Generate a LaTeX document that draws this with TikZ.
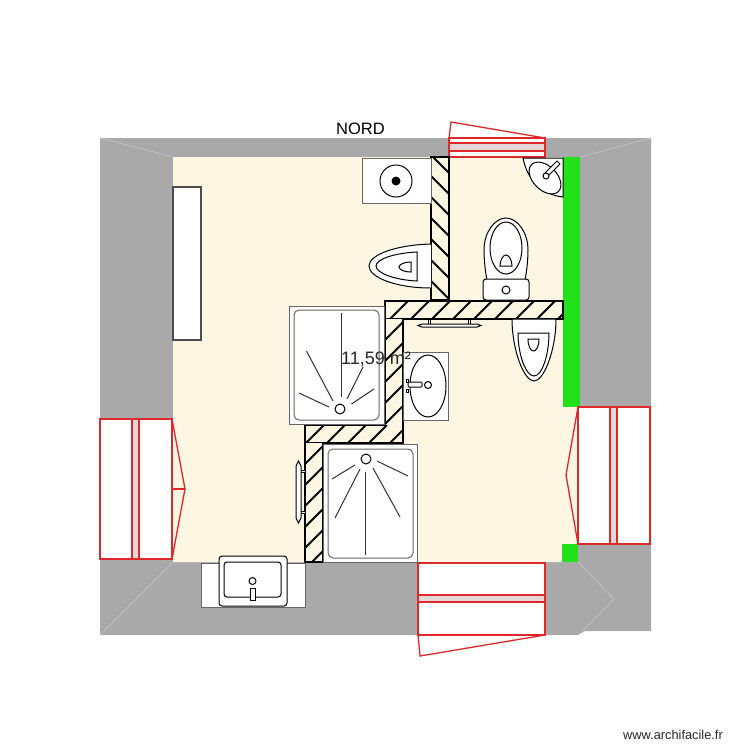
\documentclass[tikz,border=0pt]{standalone}
\usepackage{fontspec}
\setmainfont{Liberation Sans}
\definecolor{mur}{HTML}{A9A9A9}
\definecolor{sol}{HTML}{FDF6E3}
\definecolor{vert}{HTML}{22E01A}
\definecolor{rouge}{HTML}{E0282C}
\definecolor{barre}{HTML}{E2D8D8}
\tikzset{
  fixture/.style={draw=black, fill=white, line width=1pt},
  thinfix/.style={draw=black!60, fill=white, line width=1pt},
  ray/.style={draw=black!80, line width=1pt},
  window/.style={draw=rouge, fill=white, line width=1.3pt},
  bar/.style={draw=rouge, fill=barre, line width=1.3pt},
  leaf/.style={draw=rouge, line width=1.3pt},
  seam/.style={draw=white!35!mur, line width=0.6pt},
  hatch/.style={draw=black, line width=2pt},
}
\begin{document}
\begin{tikzpicture}[x=1pt, y=-1pt]
  \useasboundingbox (0,0) rectangle (750,750);

  % shell and floor
  \fill[mur] (100,138) -- (651,138) -- (651,631) -- (585,631) -- (578,635) -- (100,635) -- cycle;
  \fill[sol] (173,157) -- (563,157) -- (563,407) -- (578,407) -- (578,544) -- (563,544) -- (563,562) -- (173,562) -- cycle;
  \fill[vert] (563,157) rectangle (580,407);
  \fill[vert] (562,544) rectangle (578,562);

  % corner seams
  \draw[seam] (100,138) -- (173,157);
  \draw[seam] (651,138) -- (580,157);
  \draw[seam] (100,635) -- (173,562);
  \draw[seam] (578,562) -- (614,599) -- (582,631);

  % radiator
  \draw[draw=black!70, fill=white, line width=1.3pt] (173,187) rectangle (201,340);

  % windows
  \draw[window] (100,419) rectangle (172,559);
  \draw[bar] (132,419) rectangle (139,559);
  \draw[leaf] (172,419) -- (185,489) -- (172,559);
  \draw[leaf] (172,489) -- (185,489);

  \draw[window] (578,407) rectangle (650,544);
  \draw[bar] (610,407) rectangle (617,544);
  \draw[leaf] (578,407) -- (566,475) -- (578,544);

  \draw[window] (418,563) rectangle (545,635);
  \draw[bar] (418,595) rectangle (545,602);
  \draw[leaf] (418,635) -- (420,656) -- (545,635);

  \draw[window] (449,138) rectangle (545,157);
  \draw[bar] (449,143) rectangle (545,151);
  \draw[leaf] (449,138) -- (451,122) -- (545,138);

  % hatched walls
  \begin{scope}
    \clip (431,157) rectangle (449,300);
    \fill[sol] (431,157) rectangle (449,300);
    \foreach \y in {134,155,...,302}
      \draw[hatch] (431,\y) -- (449,\y+18);
  \end{scope}
  \draw[draw=black, line width=2pt] (431,157) rectangle (449,300);

  \begin{scope}
    \clip (385,301) rectangle (563,319);
    \fill[sol] (385,301) rectangle (563,319);
    \foreach \x in {390,411,...,580}
      \draw[hatch] (\x,319) -- (\x+18,301);
  \end{scope}
  \draw[draw=black, line width=2pt] (385,301) rectangle (563,319);

  \begin{scope}
    \clip (385,319) rectangle (403,425);
    \fill[sol] (385,319) rectangle (403,425);
    \foreach \y in {340,361,...,445}
      \draw[hatch] (385,\y) -- (403,\y-18);
  \end{scope}

  \begin{scope}
    \clip (305,425) rectangle (403,443);
    \fill[sol] (305,425) rectangle (403,443);
    \foreach \x in {306,327,...,390}
      \draw[hatch] (\x,443) -- (\x+18,425);
  \end{scope}
  \draw[draw=black, line width=2pt] (385,319) -- (385,425) -- (305,425) -- (305,443);
  \draw[draw=black, line width=2pt] (403,319) -- (403,443) -- (305,443);

  \begin{scope}
    \clip (305,443) rectangle (323,562);
    \fill[sol] (305,443) rectangle (323,562);
    \foreach \y in {464,485,...,590}
      \draw[hatch] (305,\y) -- (323,\y-18);
  \end{scope}
  \draw[draw=black, line width=2pt] (323,443) -- (323,562) -- (305,562) -- (305,443);

  % square sink, top
  \draw[thinfix] (362,158) rectangle (431,203);
  \draw[fixture] (396,181) circle (16);
  \fill[black] (396,181) circle (4.5);

  % toilet on the wall
  \draw[fixture] (431,244) .. controls (395,245) and (369,255) .. (369,266) .. controls (369,277) and (395,288) .. (431,288);
  \draw[fixture] (417,252) -- (417,281) .. controls (395,280) and (376,273) .. (376,266) .. controls (376,259) and (395,253) .. (417,252) -- cycle;
  \draw[fixture] (411,262) -- (411,272) .. controls (403,272) and (399,269) .. (399,267) .. controls (399,265) and (403,262) .. (411,262) -- cycle;

  % toilet, top right
  \draw[fixture] (487,280) .. controls (485,270) and (484,258) .. (484,250) .. controls (484,232) and (495,218) .. (506,218) .. controls (517,218) and (528,232) .. (528,250) .. controls (528,258) and (527,270) .. (525,280) -- cycle;
  \draw[fixture] (506,248) ellipse (16 and 26);
  \draw[fixture] (500,266) .. controls (500,260) and (503,255) .. (506,255) .. controls (509,255) and (512,260) .. (512,266) -- cycle;
  \draw[fixture, rounded corners=3] (483,279) rectangle (529,300);
  \draw[fixture] (506,290) circle (4);

  % corner sink
  \draw[fixture] (523,158) -- (563,158) -- (563,197) .. controls (543,195) and (527,180) .. (523,158) -- cycle;
  \draw[fixture, rotate around={-45:(545,178)}] (545,178) ellipse (19 and 12);
  \draw[fixture] (545,173) -- (557,161) -- (560,164) -- (548,176) -- cycle;
  \draw[fixture] (546,176) circle (3);

  % towel bar under the wall
  \draw[fixture] (428,319) rectangle (430,325);
  \draw[fixture] (468,319) rectangle (470,325);
  \draw[fixture] (418,325.5) -- (422,324) -- (477,324) -- (481,325.5) -- (477,327) -- (422,327) -- cycle;

  % toilet, below the wall
  \draw[fixture] (512,319) .. controls (512,350) and (524,381) .. (534,381) .. controls (544,381) and (556,350) .. (556,319) -- cycle;
  \draw[fixture] (518,333) -- (549,333) .. controls (549,355) and (542,376) .. (534,376) .. controls (526,376) and (518,355) .. (518,333) -- cycle;
  \draw[fixture] (528,339) -- (539,339) .. controls (539,347) and (536,351) .. (533.5,351) .. controls (531,351) and (528,347) .. (528,339) -- cycle;

  % first shower
  \draw[thinfix] (289,306) rectangle (384,424);
  \draw[thinfix, rounded corners=5] (294,310) rectangle (379,420);
  \draw[fixture] (340,409) circle (5);
  \draw[ray] (341,313) -- (341,397);
  \draw[ray] (306.5,351) -- (333,401);
  \draw[ray] (299,393) -- (329,407);
  \draw[ray] (374,389) -- (351.5,404);
  \draw[ray] (363,367) -- (347,399);

  % oval sink
  \draw[thinfix] (403,352) rectangle (448,420);
  \draw[fixture] (428,386) ellipse (18 and 31);
  \draw[fixture] (428,385) circle (3.5);
  \draw[fixture, rounded corners=1] (408,382) rectangle (422,387);
  \draw[fixture] (406,379) rectangle (408.5,382);
  \draw[fixture] (406,389) rectangle (408.5,392);

  % second shower
  \draw[thinfix] (323,444) rectangle (417,562);
  \draw[thinfix, rounded corners=5] (328,449) rectangle (413,558);
  \draw[fixture] (366,459) circle (5);
  \draw[ray] (365.5,472) -- (365.5,555);
  \draw[ray] (360,469) -- (335,518);
  \draw[ray] (355,465) -- (332,479);
  \draw[ray] (377,461) -- (408,476);
  \draw[ray] (373,468) -- (400,517);

  % towel bar on the shower wall
  \draw[fixture] (300,470) rectangle (305,472);
  \draw[fixture] (300,511) rectangle (305,513);
  \draw[fixture] (298.5,461) -- (301,466) -- (301,518) -- (298.5,523) -- (296,518) -- (296,466) -- cycle;

  % sink at the bottom
  \draw[thinfix] (201,563) rectangle (305,607);
  \draw[fixture, rounded corners=3] (219,556) rectangle (287,606);
  \draw[fixture, rounded corners=3] (224,562) rectangle (281,597);
  \draw[fixture] (252.5,581) circle (3.5);
  \draw[fixture] (250,588) rectangle (255,600);

  % texts
  \node[font=\fontsize{16.5}{16.5}\selectfont, inner sep=0pt] (nord) at (360.5,129) {NORD};
  \node[font=\fontsize{18}{18}\selectfont, inner sep=0pt, anchor=west, text=black!85] (surface) at (341,359) {11,59 m²};
  \node[font=\fontsize{12.8}{12.8}\selectfont, inner sep=0pt, anchor=west, text=black!85] (credit) at (623,735) {www.archifacile.fr};
\end{tikzpicture}
\end{document}
